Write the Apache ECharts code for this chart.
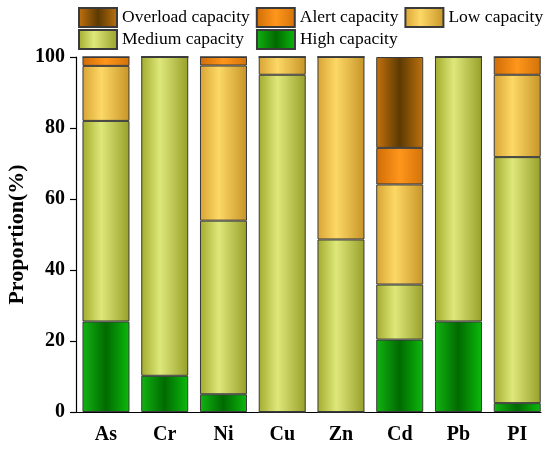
<!DOCTYPE html>
<html lang="en">
<head>
    <meta charset="UTF-8">
    <script src="https://cdn.jsdelivr.net/npm/echarts@6/dist/echarts.min.js"></script>
    <style>
        html, body { margin: 0; padding: 0; background: #fff; }
    </style>
</head>
<body>
    <div id="main" style="width: 550px; height: 452px;"></div>
    <script>
        // metals and their share of each capacity class (%)
        var categories = ['As', 'Cr', 'Ni', 'Cu', 'Zn', 'Cd', 'Pb', 'PI'];
        var highCap     = [25.5, 10.2,  5.0,  0.0,  0.0, 20.4, 25.5,  2.5];
        var mediumCap   = [56.5, 89.8, 48.9, 95.0, 48.6, 15.5, 74.5, 69.3];
        var lowCap      = [15.5,  0.0, 43.7,  5.0, 51.4, 28.2,  0.0, 23.2];
        var alertCap    = [ 2.5,  0.0,  2.4,  0.0,  0.0, 10.3,  0.0,  5.0];
        var overloadCap = [ 0.0,  0.0,  0.0,  0.0,  0.0, 25.6,  0.0,  0.0];
        var yTicks = [0, 20, 40, 60, 80, 100];

        var serif = "'Liberation Serif', 'Times New Roman', serif";

        function grad(stops) {
            return new echarts.graphic.LinearGradient(0, 0, 1, 0, stops.map(function (s) {
                return { offset: s[0], color: s[1] };
            }));
        }

        var colors = {
            high:     grad([[0, '#12b412'], [0.5, '#006a00'], [1, '#0cba0c']]),
            medium:   grad([[0, '#a2ac2e'], [0.4, '#dee87a'], [1, '#98a02a']]),
            low:      grad([[0, '#d8a434'], [0.4, '#fdd866'], [1, '#c79428']]),
            alert:    grad([[0, '#cf6c06'], [0.5, '#ff961c'], [1, '#d27208']]),
            overload: grad([[0, '#c4720e'], [0.5, '#5c3a02'], [1, '#be720f']])
        };

        function barSeries(name, data, color) {
            return {
                name: name,
                type: 'bar',
                stack: 'total',
                xAxisIndex: 0,
                yAxisIndex: 0,
                barWidth: 47,
                data: data,
                itemStyle: {
                    color: color,
                    borderColor: '#3a3a3a',
                    borderWidth: 1
                }
            };
        }

        var chart = echarts.init(document.getElementById('main'));

        var legendText = { fontFamily: serif, fontSize: 17.5, color: '#000' };

        chart.setOption({
            animation: false,
            legend: [{
                data: ['Overload capacity', 'Alert capacity', 'Low capacity'],
                left: 78, top: 7, width: 470, padding: 0,
                itemWidth: 38, itemHeight: 19, itemGap: 6,
                icon: 'rect',
                textStyle: legendText
            }, {
                data: ['Medium capacity', 'High capacity'],
                left: 78, top: 29, width: 470, padding: 0,
                itemWidth: 38, itemHeight: 19, itemGap: 12,
                icon: 'rect',
                textStyle: legendText
            }],
            grid: [
                { left: 76.6, right: 3.4, top: 57, bottom: 40, containLabel: false, outerBoundsMode: 'none' },
                { left: 76, right: 9, top: 57, bottom: 40, containLabel: false, outerBoundsMode: 'none' }
            ],
            xAxis: [{
                gridIndex: 0,
                type: 'category',
                data: categories,
                axisLine: { show: false },
                axisTick: { alignWithLabel: true, length: 6, lineStyle: { color: '#000', width: 1.2 } },
                axisLabel: { fontFamily: serif, fontSize: 20, fontWeight: 'bold', color: '#000', margin: 13 }
            }, {
                gridIndex: 1,
                type: 'value',
                min: 0, max: 1,
                splitLine: { show: false },
                axisTick: { show: false },
                axisLabel: { show: false },
                axisLine: { show: true, lineStyle: { color: '#000', width: 1.2 } }
            }],
            yAxis: [{
                gridIndex: 0,
                type: 'value',
                min: 0, max: 100,
                show: false
            }, {
                gridIndex: 1,
                type: 'value',
                min: yTicks[0], max: yTicks[yTicks.length - 1], interval: 20,
                name: 'Proportion(%)',
                nameLocation: 'middle',
                nameGap: 48,
                nameMoveOverlap: false,
                nameTextStyle: { fontFamily: serif, fontSize: 22, fontWeight: 'bold', color: '#000' },
                splitLine: { show: false },
                axisLine: { show: true, lineStyle: { color: '#000', width: 1.2 } },
                axisTick: { show: true, length: 6, lineStyle: { color: '#000', width: 1.2 } },
                axisLabel: { fontFamily: serif, fontSize: 20, fontWeight: 'bold', color: '#000', margin: 11 }
            }],
            series: [
                barSeries('High capacity', highCap, colors.high),
                barSeries('Medium capacity', mediumCap, colors.medium),
                barSeries('Low capacity', lowCap, colors.low),
                barSeries('Alert capacity', alertCap, colors.alert),
                barSeries('Overload capacity', overloadCap, colors.overload)
            ]
        });
    </script>
</body>
</html>
